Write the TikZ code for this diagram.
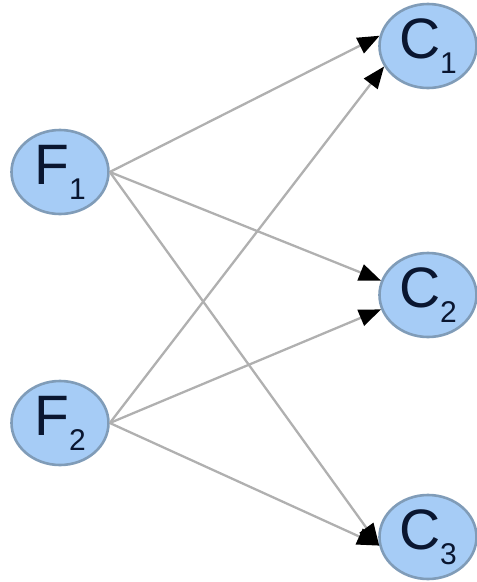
\documentclass[tikz,border=0pt]{standalone}
\usepackage{fontspec}
\setmainfont{Liberation Sans}
\usetikzlibrary{arrows.meta,shapes.geometric}
\definecolor{nodefill}{RGB}{166,204,246}
\definecolor{nodeline}{RGB}{128,156,184}
\definecolor{edgegray}{RGB}{176,176,176}
\definecolor{labelink}{RGB}{10,22,48}
\tikzset{
  var/.style={ellipse, draw=nodeline, line width=2.6pt, fill=nodefill,
    minimum width=97pt, minimum height=84pt, inner sep=0pt,
    font=\fontsize{57}{57}\selectfont, text=labelink},
  link/.style={draw=edgegray, line width=2.3pt,
    -{Triangle[length=22pt,width=17pt,color=black]}},
}
\newcommand{\lbl}[2]{#1\raisebox{-15pt}{\fontsize{30}{30}\selectfont #2}}
\begin{document}
\begin{tikzpicture}[x=1pt,y=-1pt]
\useasboundingbox (0,0) rectangle (477,582);
\node[var] (F1) at (60,172) {\lbl{F}{1}};
\node[var] (F2) at (60,423) {\lbl{F}{2}};
\node[var] (C1) at (428,46) {\lbl{C}{1}};
\node[var] (C2) at (428,295) {\lbl{C}{2}};
\node[var] (C3) at (428,537) {\lbl{C}{3}};
\draw[link] (F1.east) -- (C1.168);
\draw[link] (F1.east) -- (C2.163);
\draw[link] (F1.east) -- (C3.190);
\draw[link] (F2.east) -- (C1.205);
\draw[link] (F2.east) -- (C2.197);
\draw[link] (F2.east) -- (C3.190);
\end{tikzpicture}
\end{document}
